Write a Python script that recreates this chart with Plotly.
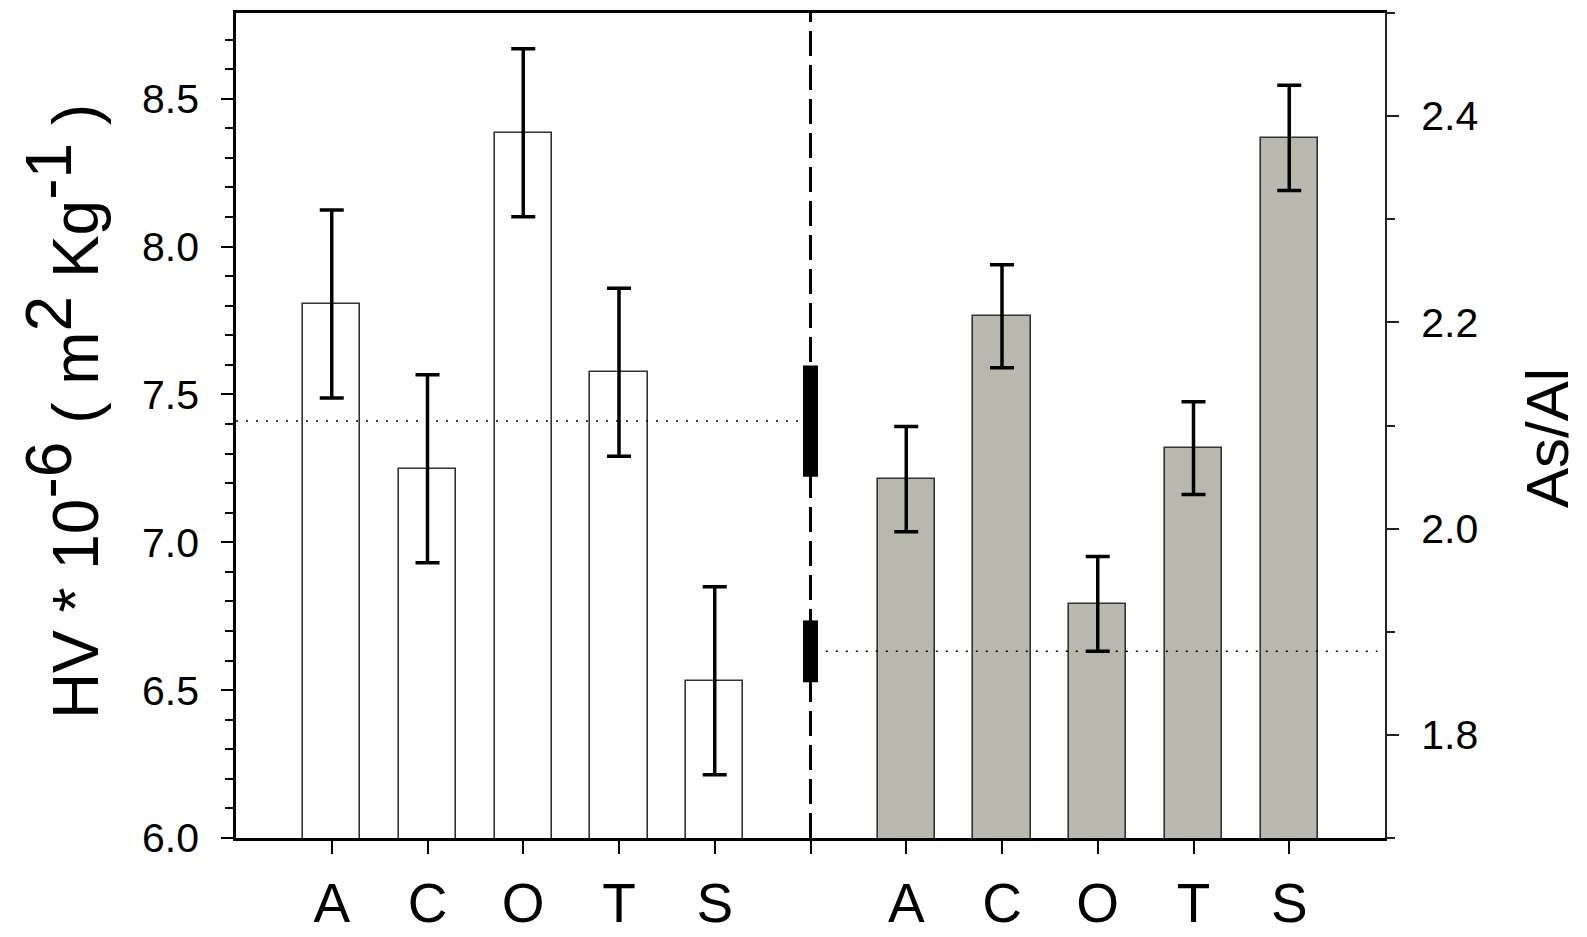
import plotly.graph_objects as go

# ---- data ----
categories = ["A", "C", "O", "T", "S"]
hv_values = [7.806, 7.249, 8.385, 7.575, 6.532]          # HV * 10^-6 (m2 Kg-1)
hv_errors = [0.318, 0.318, 0.284, 0.284, 0.318]
ratio_values = [2.048, 2.206, 1.927, 2.078, 2.379]      # As/Al
ratio_errors = [0.051, 0.050, 0.046, 0.045, 0.051]
hv_mean, hv_ci = 7.41, 0.188
ratio_mean, ratio_ci = 1.881, 0.030

left_x = [1, 2, 3, 4, 5]
mid_x = 6
right_x = [7, 8, 9, 10, 11]
tick_vals = left_x + [mid_x] + right_x
tick_text = categories + [""] + categories

FONT = "Liberation Sans, Arial, sans-serif"

fig = go.Figure()

fig.add_trace(go.Bar(
    x=left_x, y=hv_values, width=0.6,
    marker=dict(color="white", line=dict(color="#333333", width=1.6)),
    error_y=dict(type="data", array=hv_errors, visible=True,
                 color="black", thickness=3.5, width=12),
    yaxis="y", showlegend=False))

fig.add_trace(go.Bar(
    x=right_x, y=ratio_values, width=0.6,
    marker=dict(color="#b8b8ac", line=dict(color="#333333", width=1.6)),
    error_y=dict(type="data", array=ratio_errors, visible=True,
                 color="black", thickness=3.5, width=12),
    yaxis="y2", showlegend=False))

# dotted mean lines
fig.add_trace(go.Scatter(
    x=[0, 5.9], y=[hv_mean, hv_mean], mode="lines",
    line=dict(color="black", width=1.5, dash="2px,8px"),
    yaxis="y", showlegend=False, hoverinfo="skip"))
fig.add_trace(go.Scatter(
    x=[6.16, 11.92], y=[ratio_mean, ratio_mean], mode="lines",
    line=dict(color="black", width=1.5, dash="2px,8px"),
    yaxis="y2", showlegend=False, hoverinfo="skip"))

# thick confidence segments on divider
fig.add_trace(go.Scatter(
    x=[mid_x, mid_x], y=[hv_mean - hv_ci, hv_mean + hv_ci], mode="lines",
    line=dict(color="black", width=15), yaxis="y", showlegend=False, hoverinfo="skip"))
fig.add_trace(go.Scatter(
    x=[mid_x, mid_x], y=[ratio_mean - ratio_ci, ratio_mean + ratio_ci], mode="lines",
    line=dict(color="black", width=15), yaxis="y2", showlegend=False, hoverinfo="skip"))

# dashed divider
fig.add_shape(type="line", xref="x", yref="paper", x0=mid_x, x1=mid_x, y0=0, y1=1,
              line=dict(color="black", width=3, dash="25px,9px"), layer="above")

left_title = ("HV * 10<sup><span style='font-size:64px'>-6</span></sup> ( m"
              "<sup><span style='font-size:64px'>2</span></sup> Kg"
              "<sup><span style='font-size:64px'>-1</span></sup> )")

fig.add_annotation(text=left_title, xref="paper", yref="paper",
                   x=-0.1514, y=0.5163, xanchor="center", yanchor="middle",
                   textangle=-90, showarrow=False,
                   font=dict(size=64, family=FONT, color="black"))
fig.add_annotation(text="As/Al", xref="paper", yref="paper",
                   x=1.1414, y=0.4855, xanchor="center", yanchor="middle",
                   textangle=-90, showarrow=False,
                   font=dict(size=60, family=FONT, color="black"))

fig.update_layout(
    width=1587, height=937,
    margin=dict(l=236, r=201.5, t=12.7, b=98.7, autoexpand=False),
    paper_bgcolor="white", plot_bgcolor="white",
    font=dict(family=FONT, color="black"),
    bargap=0,
    xaxis=dict(
        range=[0, 12], tickmode="array", tickvals=tick_vals, ticktext=tick_text,
        ticks="outside", ticklen=13, tickwidth=2, tickcolor="black",
        showline=True, linecolor="black", linewidth=2.5, mirror=True,
        showgrid=False, zeroline=False,
        tickfont=dict(size=55, family=FONT), ticklabelstandoff=2),
    yaxis=dict(
        range=[6.0, 8.79], tick0=6.0, dtick=0.5, tickformat=".1f",
        ticks="outside", ticklen=12, tickwidth=2, tickcolor="black",
        minor=dict(tick0=6.0, dtick=0.1, ticks="outside", ticklen=8,
                   tickwidth=2, tickcolor="black", showgrid=False),
        showline=True, linecolor="black", linewidth=2.5,
        showgrid=False, zeroline=False,
        tickfont=dict(size=41, family=FONT), ticklabelstandoff=14),
    yaxis2=dict(
        overlaying="y", side="right", anchor="x",
        range=[1.7, 2.5], tick0=1.8, dtick=0.2, tickformat=".1f",
        ticks="outside", ticklen=12, tickwidth=2, tickcolor="#222222",
        minor=dict(tick0=1.7, dtick=0.1, ticks="outside", ticklen=8,
                   tickwidth=2, tickcolor="#222222", showgrid=False),
        showline=True, linecolor="#222222", linewidth=2,
        showgrid=False, zeroline=False,
        tickfont=dict(size=41, family=FONT), ticklabelstandoff=14),
)

fig.write_html("out.html")
